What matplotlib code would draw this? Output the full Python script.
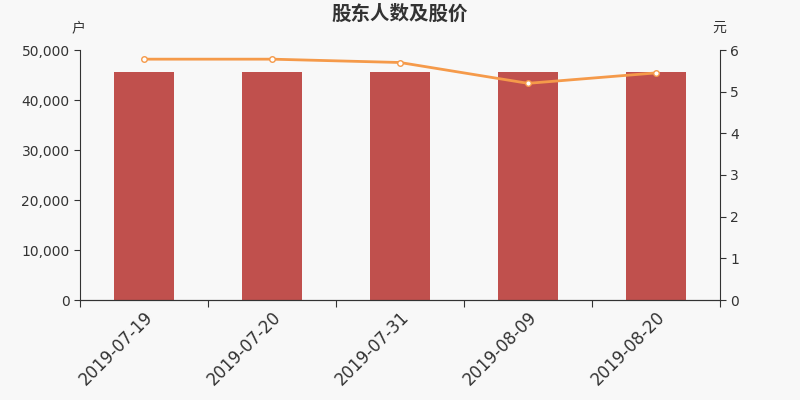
import numpy as np
import matplotlib
matplotlib.use("Agg")
import matplotlib.pyplot as plt
from matplotlib.ticker import FuncFormatter

plt.rcParams['font.family'] = ['DejaVu Sans', 'Noto Sans CJK SC']

dates = ["2019-07-19", "2019-07-20", "2019-07-31", "2019-08-09", "2019-08-20"]
holders = [45650, 45650, 45600, 45580, 45550]
price = [5.78, 5.78, 5.70, 5.20, 5.45]

bg = "#f8f8f8"
fig = plt.figure(figsize=(8, 4), dpi=100, facecolor=bg)
ax = fig.add_axes([0.1, 0.25, 0.8, 0.625], facecolor=bg)
ax2 = ax.twinx()

x = np.arange(len(dates))
ax.bar(x, holders, width=0.47, color="#c0504d", zorder=2)
ax.set_xlim(-0.5, len(dates) - 0.5)
ax.set_ylim(0, 50000)
ax.set_yticks(np.arange(0, 50001, 10000))
ax.yaxis.set_major_formatter(FuncFormatter(lambda v, p: f"{int(v):,}"))

ax2.plot(x, price, color="#f59a4a", lw=2, marker="o", ms=4,
         markerfacecolor="white", markeredgecolor="#f59a4a", mew=1, zorder=3)
ax2.set_ylim(0, 6)
ax2.set_yticks(range(0, 7))

ax.set_xticks(np.arange(-0.5, len(dates), 1), minor=False)
ax.set_xticklabels([])
ax.set_xticks(x, minor=True)
ax.set_xticklabels(dates, minor=True, rotation=45, ha="right", rotation_mode="anchor",
                   fontsize=12, color="#333333")
ax.tick_params(axis="x", which="minor", length=0, pad=6)
ax.tick_params(axis="x", which="major", length=5, color="#333333")

for a in (ax, ax2):
    a.spines["top"].set_visible(False)
    a.spines["left"].set_color("#333333")
    a.spines["right"].set_color("#333333")
    a.spines["bottom"].set_color("#333333")
    a.tick_params(axis="y", labelsize=10, colors="#333333", length=4)
ax2.spines["left"].set_visible(False)
ax.spines["right"].set_visible(False)

fig.text(0.5, 0.965, "股东人数及股价", ha="center", va="center", fontsize=14,
         fontweight="bold", color="#333333", family=["Noto Sans CJK SC", "DejaVu Sans"])
fig.text(0.098, 0.93, "户", ha="center", va="center", fontsize=10, color="#333333",
         family=["Noto Sans CJK SC", "DejaVu Sans"])
fig.text(0.899, 0.93, "元", ha="center", va="center", fontsize=10, color="#333333",
         family=["Noto Sans CJK SC", "DejaVu Sans"])

fig.savefig("out.png", dpi=100, facecolor=bg)
